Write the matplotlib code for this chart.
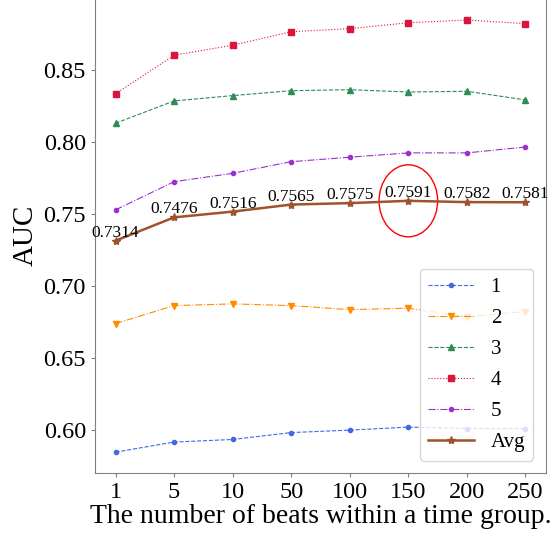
import matplotlib
matplotlib.use('Agg')
import matplotlib.pyplot as plt
from matplotlib.patches import Ellipse

plt.rcParams['font.family'] = ['Liberation Serif', 'DejaVu Serif']

beats = ['1', '5', '10', '50', '100', '150', '200', '250']

s1 = [0.5845, 0.5915, 0.5933, 0.5981, 0.5998, 0.6019, 0.6009, 0.6009]
s2 = [0.6738, 0.6863, 0.6875, 0.6863, 0.6835, 0.6845, 0.6785, 0.6822]
s3 = [0.8130, 0.8285, 0.8322, 0.8356, 0.8363, 0.8347, 0.8352, 0.8292]
s4 = [0.8335, 0.8602, 0.8672, 0.8766, 0.8787, 0.8828, 0.8847, 0.8822]
s5 = [0.7528, 0.7724, 0.7782, 0.7863, 0.7894, 0.7924, 0.7924, 0.7965]
avg = [0.7314, 0.7476, 0.7516, 0.7565, 0.7575, 0.7591, 0.7582, 0.7581]

fig = plt.figure(figsize=(5.56, 5.38), dpi=100)
ax = fig.add_axes([0.1709, 0.1208, 0.8111, 0.8829])

x = list(range(len(beats)))
ax.plot(x, s1, color='royalblue', linestyle='--', marker='o', markersize=3, linewidth=0.8, label='1')
ax.plot(x, s2, color='darkorange', linestyle='-.', marker='v', markersize=4, linewidth=0.8, label='2')
ax.plot(x, s3, color='seagreen', linestyle='--', marker='^', markersize=4, linewidth=0.8, label='3')
ax.plot(x, s4, color='crimson', linestyle=':', marker='s', markersize=4, linewidth=0.8, label='4')
ax.plot(x, s5, color='darkorchid', linestyle='-.', marker='o', markersize=3, linewidth=0.8, label='5')
ax.plot(x, avg, color='sienna', linestyle='-', marker='*', markersize=6, linewidth=1.8, label='Avg')

for xi, v in zip(x, avg):
    ax.annotate(f'{v:.4f}', (xi, v), xytext=(0, 0), textcoords='offset points',
                ha='center', va='bottom', fontsize=12.5)

# highlight the best average
best = avg.index(max(avg))
ax.add_patch(Ellipse((best, max(avg)), width=1.0, height=0.05, fill=False,
                     edgecolor='red', linewidth=1))

ax.set_xlim(-0.35, 7.35)
ax.set_ylim(0.57, 0.9)
ax.set_xticks(x)
ax.set_xticklabels(beats)
ax.set_yticks([0.60, 0.65, 0.70, 0.75, 0.80, 0.85])
ax.tick_params(labelsize=17.5, color='gray', length=3)
ax.set_xlabel('The number of beats within a time group.', fontsize=20, labelpad=1)
ax.set_ylabel('AUC', fontsize=21, labelpad=3)
for sp in ax.spines.values():
    sp.set_color('gray')

ax.legend(loc='lower right', fontsize=15, borderaxespad=0.6, handlelength=2.2,
          labelspacing=0.55)

plt.savefig('out.png', dpi=100)
